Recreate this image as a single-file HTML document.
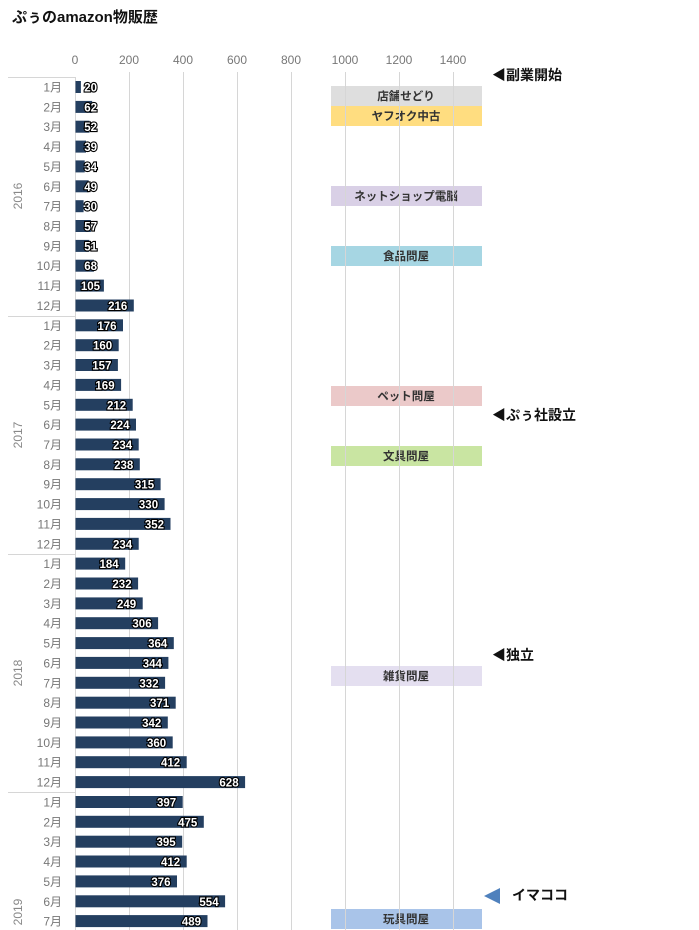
<!DOCTYPE html>
<html><head><meta charset="utf-8"><style>
html,body{margin:0;padding:0;background:#fff;}
svg{display:block;font-family:"Liberation Sans","Noto Sans CJK JP",sans-serif;}
.m{font-size:12px;fill:#777;text-anchor:end;}
.b{fill:#243f60;}
.v{font-size:11.5px;font-weight:bold;fill:#fff;stroke:#000;stroke-width:2.2px;paint-order:stroke;text-anchor:end;}
</style></head><body>
<svg width="699" height="930" viewBox="0 0 699 930" xmlns="http://www.w3.org/2000/svg">
<text x="12" y="22" font-size="15" font-weight="bold" fill="#111">ぷぅのamazon物販歴</text>
<g font-size="12" fill="#777" text-anchor="middle">
<text x="75" y="64">0</text><text x="129" y="64">200</text><text x="183" y="64">400</text><text x="237" y="64">600</text><text x="291" y="64">800</text><text x="345" y="64">1000</text><text x="399" y="64">1200</text><text x="453" y="64">1400</text>
</g>
<g font-size="11.5" font-weight="bold" fill="#333" text-anchor="middle">
<rect x="331" y="86" width="151" height="20" fill="#dedede"/><text x="406" y="100">店舗せどり</text>
<rect x="331" y="106" width="151" height="20" fill="#ffdd80"/><text x="406" y="120">ヤフオク中古</text>
<rect x="331" y="186" width="151" height="20" fill="#d9d0e6"/><text x="406" y="200">ネットショップ電脳</text>
<rect x="331" y="246" width="151" height="20" fill="#a6d6e3"/><text x="406" y="260">食品問屋</text>
<rect x="331" y="386" width="151" height="20" fill="#ebc9c9"/><text x="406" y="400">ペット問屋</text>
<rect x="331" y="446" width="151" height="20" fill="#c9e5a2"/><text x="406" y="460">文具問屋</text>
<rect x="331" y="666" width="151" height="20" fill="#e4dff0"/><text x="406" y="680">雑貨問屋</text>
<rect x="331" y="909" width="151" height="20" fill="#a9c4e9"/><text x="406" y="923">玩具問屋</text>
</g>
<g stroke="#d6d6d6" stroke-width="1">
<line x1="129.5" y1="72" x2="129.5" y2="930"/><line x1="183.5" y1="72" x2="183.5" y2="930"/><line x1="237.5" y1="72" x2="237.5" y2="930"/><line x1="291.5" y1="72" x2="291.5" y2="930"/><line x1="345.5" y1="72" x2="345.5" y2="930"/><line x1="399.5" y1="72" x2="399.5" y2="930"/><line x1="453.5" y1="72" x2="453.5" y2="930"/>
<line x1="75.5" y1="77" x2="75.5" y2="930"/>
<line x1="8" y1="77.5" x2="75" y2="77.5"/><line x1="8" y1="316.5" x2="75" y2="316.5"/><line x1="8" y1="554.5" x2="75" y2="554.5"/><line x1="8" y1="792.5" x2="75" y2="792.5"/>
</g>
<g font-size="12" fill="#888">
<text transform="translate(22,196) rotate(-90)" text-anchor="middle">2016</text>
<text transform="translate(22,435) rotate(-90)" text-anchor="middle">2017</text>
<text transform="translate(22,673) rotate(-90)" text-anchor="middle">2018</text>
<text transform="translate(22,912) rotate(-90)" text-anchor="middle">2019</text>
</g>
<g>
<g transform="translate(0,87)"><text class="m" x="62" y="4.5">1月</text><rect class="b" x="75.5" y="-6" width="5.4" height="12"/><text class="v" x="97" y="4.5">20</text></g>
<g transform="translate(0,106.9)"><text class="m" x="62" y="4.5">2月</text><rect class="b" x="75.5" y="-6" width="16.7" height="12"/><text class="v" x="97" y="4.5">62</text></g>
<g transform="translate(0,126.7)"><text class="m" x="62" y="4.5">3月</text><rect class="b" x="75.5" y="-6" width="14" height="12"/><text class="v" x="97" y="4.5">52</text></g>
<g transform="translate(0,146.6)"><text class="m" x="62" y="4.5">4月</text><rect class="b" x="75.5" y="-6" width="10.5" height="12"/><text class="v" x="97" y="4.5">39</text></g>
<g transform="translate(0,166.4)"><text class="m" x="62" y="4.5">5月</text><rect class="b" x="75.5" y="-6" width="9.2" height="12"/><text class="v" x="97" y="4.5">34</text></g>
<g transform="translate(0,186.3)"><text class="m" x="62" y="4.5">6月</text><rect class="b" x="75.5" y="-6" width="13.2" height="12"/><text class="v" x="97" y="4.5">49</text></g>
<g transform="translate(0,206.2)"><text class="m" x="62" y="4.5">7月</text><rect class="b" x="75.5" y="-6" width="8.1" height="12"/><text class="v" x="97" y="4.5">30</text></g>
<g transform="translate(0,226)"><text class="m" x="62" y="4.5">8月</text><rect class="b" x="75.5" y="-6" width="15.4" height="12"/><text class="v" x="97" y="4.5">57</text></g>
<g transform="translate(0,245.9)"><text class="m" x="62" y="4.5">9月</text><rect class="b" x="75.5" y="-6" width="13.8" height="12"/><text class="v" x="97" y="4.5">51</text></g>
<g transform="translate(0,265.7)"><text class="m" x="62" y="4.5">10月</text><rect class="b" x="75.5" y="-6" width="18.4" height="12"/><text class="v" x="97" y="4.5">68</text></g>
<g transform="translate(0,285.6)"><text class="m" x="62" y="4.5">11月</text><rect class="b" x="75.5" y="-6" width="28.4" height="12"/><text class="v" x="100" y="4.5">105</text></g>
<g transform="translate(0,305.5)"><text class="m" x="62" y="4.5">12月</text><rect class="b" x="75.5" y="-6" width="58.3" height="12"/><text class="v" x="127.3" y="4.5">216</text></g>
<g transform="translate(0,325.3)"><text class="m" x="62" y="4.5">1月</text><rect class="b" x="75.5" y="-6" width="47.5" height="12"/><text class="v" x="116.5" y="4.5">176</text></g>
<g transform="translate(0,345.2)"><text class="m" x="62" y="4.5">2月</text><rect class="b" x="75.5" y="-6" width="43.2" height="12"/><text class="v" x="112.2" y="4.5">160</text></g>
<g transform="translate(0,365)"><text class="m" x="62" y="4.5">3月</text><rect class="b" x="75.5" y="-6" width="42.4" height="12"/><text class="v" x="111.4" y="4.5">157</text></g>
<g transform="translate(0,384.9)"><text class="m" x="62" y="4.5">4月</text><rect class="b" x="75.5" y="-6" width="45.6" height="12"/><text class="v" x="114.6" y="4.5">169</text></g>
<g transform="translate(0,404.8)"><text class="m" x="62" y="4.5">5月</text><rect class="b" x="75.5" y="-6" width="57.2" height="12"/><text class="v" x="126.2" y="4.5">212</text></g>
<g transform="translate(0,424.6)"><text class="m" x="62" y="4.5">6月</text><rect class="b" x="75.5" y="-6" width="60.5" height="12"/><text class="v" x="129.5" y="4.5">224</text></g>
<g transform="translate(0,444.5)"><text class="m" x="62" y="4.5">7月</text><rect class="b" x="75.5" y="-6" width="63.2" height="12"/><text class="v" x="132.2" y="4.5">234</text></g>
<g transform="translate(0,464.3)"><text class="m" x="62" y="4.5">8月</text><rect class="b" x="75.5" y="-6" width="64.3" height="12"/><text class="v" x="133.3" y="4.5">238</text></g>
<g transform="translate(0,484.2)"><text class="m" x="62" y="4.5">9月</text><rect class="b" x="75.5" y="-6" width="85.1" height="12"/><text class="v" x="154.1" y="4.5">315</text></g>
<g transform="translate(0,504.1)"><text class="m" x="62" y="4.5">10月</text><rect class="b" x="75.5" y="-6" width="89.1" height="12"/><text class="v" x="158.1" y="4.5">330</text></g>
<g transform="translate(0,523.9)"><text class="m" x="62" y="4.5">11月</text><rect class="b" x="75.5" y="-6" width="95" height="12"/><text class="v" x="164" y="4.5">352</text></g>
<g transform="translate(0,543.8)"><text class="m" x="62" y="4.5">12月</text><rect class="b" x="75.5" y="-6" width="63.2" height="12"/><text class="v" x="132.2" y="4.5">234</text></g>
<g transform="translate(0,563.6)"><text class="m" x="62" y="4.5">1月</text><rect class="b" x="75.5" y="-6" width="49.7" height="12"/><text class="v" x="118.7" y="4.5">184</text></g>
<g transform="translate(0,583.5)"><text class="m" x="62" y="4.5">2月</text><rect class="b" x="75.5" y="-6" width="62.6" height="12"/><text class="v" x="131.6" y="4.5">232</text></g>
<g transform="translate(0,603.4)"><text class="m" x="62" y="4.5">3月</text><rect class="b" x="75.5" y="-6" width="67.2" height="12"/><text class="v" x="136.2" y="4.5">249</text></g>
<g transform="translate(0,623.2)"><text class="m" x="62" y="4.5">4月</text><rect class="b" x="75.5" y="-6" width="82.6" height="12"/><text class="v" x="151.6" y="4.5">306</text></g>
<g transform="translate(0,643.1)"><text class="m" x="62" y="4.5">5月</text><rect class="b" x="75.5" y="-6" width="98.3" height="12"/><text class="v" x="167.3" y="4.5">364</text></g>
<g transform="translate(0,662.9)"><text class="m" x="62" y="4.5">6月</text><rect class="b" x="75.5" y="-6" width="92.9" height="12"/><text class="v" x="161.9" y="4.5">344</text></g>
<g transform="translate(0,682.8)"><text class="m" x="62" y="4.5">7月</text><rect class="b" x="75.5" y="-6" width="89.6" height="12"/><text class="v" x="158.6" y="4.5">332</text></g>
<g transform="translate(0,702.7)"><text class="m" x="62" y="4.5">8月</text><rect class="b" x="75.5" y="-6" width="100.2" height="12"/><text class="v" x="169.2" y="4.5">371</text></g>
<g transform="translate(0,722.5)"><text class="m" x="62" y="4.5">9月</text><rect class="b" x="75.5" y="-6" width="92.3" height="12"/><text class="v" x="161.3" y="4.5">342</text></g>
<g transform="translate(0,742.4)"><text class="m" x="62" y="4.5">10月</text><rect class="b" x="75.5" y="-6" width="97.2" height="12"/><text class="v" x="166.2" y="4.5">360</text></g>
<g transform="translate(0,762.2)"><text class="m" x="62" y="4.5">11月</text><rect class="b" x="75.5" y="-6" width="111.2" height="12"/><text class="v" x="180.2" y="4.5">412</text></g>
<g transform="translate(0,782.1)"><text class="m" x="62" y="4.5">12月</text><rect class="b" x="75.5" y="-6" width="169.6" height="12"/><text class="v" x="238.6" y="4.5">628</text></g>
<g transform="translate(0,802)"><text class="m" x="62" y="4.5">1月</text><rect class="b" x="75.5" y="-6" width="107.2" height="12"/><text class="v" x="176.2" y="4.5">397</text></g>
<g transform="translate(0,821.8)"><text class="m" x="62" y="4.5">2月</text><rect class="b" x="75.5" y="-6" width="128.3" height="12"/><text class="v" x="197.3" y="4.5">475</text></g>
<g transform="translate(0,841.7)"><text class="m" x="62" y="4.5">3月</text><rect class="b" x="75.5" y="-6" width="106.7" height="12"/><text class="v" x="175.7" y="4.5">395</text></g>
<g transform="translate(0,861.5)"><text class="m" x="62" y="4.5">4月</text><rect class="b" x="75.5" y="-6" width="111.2" height="12"/><text class="v" x="180.2" y="4.5">412</text></g>
<g transform="translate(0,881.4)"><text class="m" x="62" y="4.5">5月</text><rect class="b" x="75.5" y="-6" width="101.5" height="12"/><text class="v" x="170.5" y="4.5">376</text></g>
<g transform="translate(0,901.3)"><text class="m" x="62" y="4.5">6月</text><rect class="b" x="75.5" y="-6" width="149.6" height="12"/><text class="v" x="218.6" y="4.5">554</text></g>
<g transform="translate(0,921.1)"><text class="m" x="62" y="4.5">7月</text><rect class="b" x="75.5" y="-6" width="132" height="12"/><text class="v" x="201" y="4.5">489</text></g>
</g>
<g font-size="14" font-weight="bold" fill="#111">
<text x="492" y="80">◀副業開始</text>
<text x="492" y="420">◀ぷぅ社設立</text>
<text x="492" y="660">◀独立</text>
<polygon points="484,896 500,888 500,904" fill="#4f81bd"/>
<text x="512" y="900">イマココ</text>
</g>
</svg>
</body></html>
